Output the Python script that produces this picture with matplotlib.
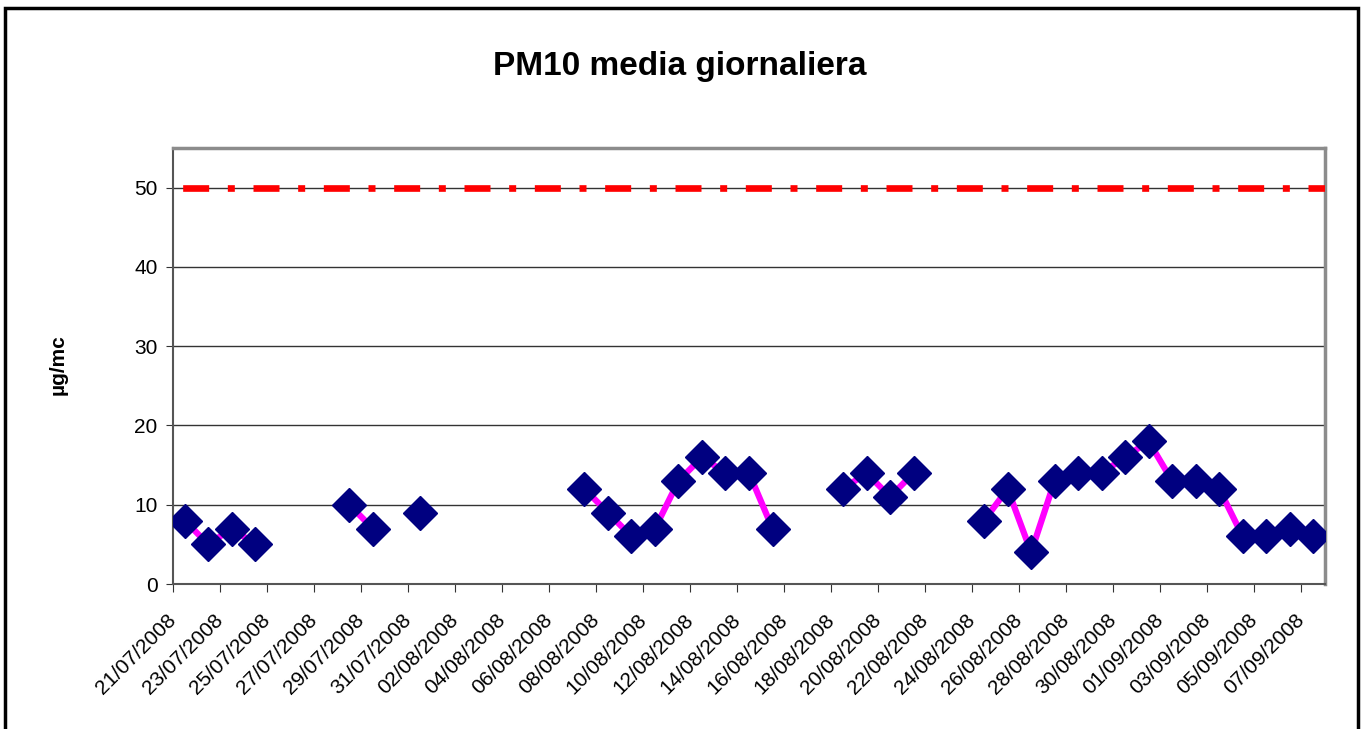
import matplotlib
matplotlib.use("Agg")
import matplotlib.pyplot as plt
import numpy as np
from matplotlib.patches import Rectangle

# daily dates 21/07/2008 .. 07/09/2008 (one category per day)
dates = (["%02d/07/2008" % d for d in range(21, 32)] +
         ["%02d/08/2008" % d for d in range(1, 32)] +
         ["%02d/09/2008" % d for d in range(1, 8)])

# PM10 daily mean (µg/mc), None = no data
pm10 = [8, 5, 7, 5, None, None, None, 10, 7, None, 9,
        None, None, None, None, None, None, 12, 9, 6, 7, 13, 16, 14, 14, 7,
        None, None, 12, 14, 11, 14, None, None, 8, 12, 4, 13, 14, 14, 16, 18,
        13, 13, 12, 6, 6, 7, 6]
limit = 50

plt.rcParams['font.family'] = ['Liberation Sans', 'DejaVu Sans']

fig = plt.figure(figsize=(13.67, 7.29), dpi=100)
ax = fig.add_axes([173/1367, 145/729, 1152/1367, 436/729])

n = len(dates)
x = np.arange(n) + 0.5
y = np.array([np.nan if v is None else v for v in pm10], dtype=float)

ax.set_xlim(0, n)
ax.set_ylim(0, 55)
ax.set_yticks(range(0, 51, 10))
ax.yaxis.grid(True, color="#333333", lw=1)
ax.set_axisbelow(True)

# limit line, dash-dot red across the whole plot area
ax.plot([0, n], [limit, limit], color="red", lw=4.8, solid_capstyle="butt",
        dash_capstyle="butt", linestyle=(9.1, (3.9, 2.8, 1.05, 2.8)), zorder=3)

ax.plot(x, y, color="#FF00FF", lw=4.5, zorder=4)
ax.plot(x, y, linestyle="none", marker="D", markersize=17,
        markerfacecolor="#000080", markeredgecolor="#000080", zorder=5)

ax.set_xticks(np.arange(0, n, 2))
ax.set_xticklabels(dates[::2], rotation=45, ha="right", va="center",
                   rotation_mode="anchor", fontsize=15)
ax.tick_params(axis="x", length=6, color="#333333", pad=18)
ax.tick_params(axis="y", length=5, color="#333333", labelsize=15, pad=6)

for side in ["top", "right"]:
    ax.spines[side].set_color("#8c8c8c")
    ax.spines[side].set_linewidth(2.5)
for side in ["left", "bottom"]:
    ax.spines[side].set_color("#555555")
    ax.spines[side].set_linewidth(1.5)

fig.text(58/1367, 1 - 365/729, "µg/mc", rotation=90, ha="center",
         va="center", fontsize=15, fontweight="bold")
fig.text(680/1367, 1 - 66/729, "PM10 media giornaliera", ha="center",
         va="center", fontsize=24, fontweight="bold")

fig.patches.append(Rectangle((5/1367, -0.01), 1353/1367, 1 - 8/729 + 0.01,
                             transform=fig.transFigure, fill=False,
                             edgecolor="black", lw=2.5))

fig.savefig("out.png", dpi=100)
